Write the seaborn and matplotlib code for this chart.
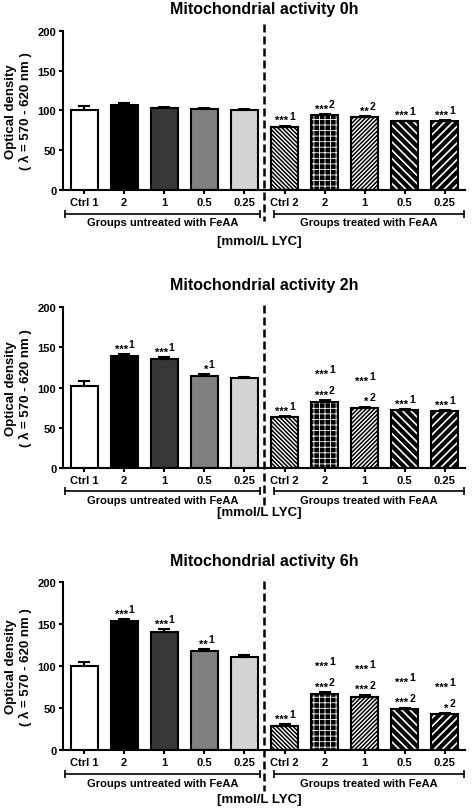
import numpy as np
import pandas as pd
import matplotlib
matplotlib.use("Agg")
import matplotlib.pyplot as plt
import seaborn as sns
from matplotlib.transforms import offset_copy

labels = ["Ctrl 1", "2", "1", "0.5", "0.25", "Ctrl 2", "2", "1", "0.5", "0.25"]
keys = ["u_ctrl", "u_2", "u_1", "u_05", "u_025", "t_ctrl", "t_2", "t_1", "t_05", "t_025"]

mean_0h = [100.2, 106.5, 103.6, 101.9, 100.0, 79.7, 94.3, 91.8, 86.4, 86.4]
sem_0h = [6.0, 2.5, 1.4, 0.8, 1.9, 1.3, 1.3, 1.2, 0.8, 1.2]
mean_2h = [102.3, 138.6, 134.8, 114.6, 111.8, 63.0, 82.5, 74.2, 72.2, 70.5]
sem_2h = [5.7, 2.4, 2.9, 1.7, 1.6, 1.7, 2.0, 2.1, 1.2, 1.7]
mean_6h = [100.0, 153.8, 141.0, 117.9, 110.4, 28.3, 66.5, 63.0, 48.6, 42.2]
sem_6h = [5.0, 2.0, 2.8, 2.1, 2.3, 2.0, 2.5, 2.7, 1.6, 1.6]

sig_low_0h = [None] * 5 + ["***1", "***2", "**2", "***1", "***1"]
sig_up_0h = [None] * 10
sig_low_2h = [None, "***1", "***1", "*1", None, "***1", "***2", "*2", "***1", "***1"]
sig_up_2h = [None] * 6 + ["***1", "***1", None, None]
sig_low_6h = [None, "***1", "***1", "**1", None, "***1", "***2", "***2", "***2", "*2"]
sig_up_6h = [None] * 6 + ["***1", "***1", "***1", "***1"]

titles = ["Mitochondrial activity 0h", "Mitochondrial activity 2h", "Mitochondrial activity 6h"]

# colours / hatches per bar
face = ["white", "black", "#383838", "#808080", "#d4d4d4", "white", "black", "white", "black", "black"]
hatch = [None, None, None, None, None, "\\" * 8, "+++", "/" * 8, "\\" * 4, "/" * 4]
hatch_col = [None] * 5 + ["black", "white", "black", "white", "white"]
hatch_lw = [None] * 5 + [1.1, 0.6, 1.1, 1.2, 1.2]

sns.set_style("ticks")
plt.rcParams["font.family"] = ["Liberation Sans", "DejaVu Sans"]
plt.rcParams["font.weight"] = "bold"
plt.rcParams["hatch.linewidth"] = 1.0
for key in ["text.color", "axes.labelcolor", "xtick.color", "ytick.color", "axes.edgecolor"]:
    plt.rcParams[key] = "black"

fig = plt.figure(figsize=(4.72, 8.12), dpi=100)

# axes rects (figure fraction) and label offsets (px below axis)
rects = [[0.134, 0.7648, 0.851, 0.1958],
         [0.134, 0.422, 0.851, 0.199],
         [0.134, 0.0755, 0.851, 0.206]]
dash_ext = [(1.044, -0.195), (1.01, -0.252), (1.008, -0.247)]
bracket_dy = [24, 23, 24]
group_dy = [32, 32, 33]
unit_dy = [51, 44, 49]
title_pad = [12.8, 12.7, 12.3]

panels = [(mean_0h, sem_0h, sig_low_0h, sig_up_0h),
          (mean_2h, sem_2h, sig_low_2h, sig_up_2h),
          (mean_6h, sem_6h, sig_low_6h, sig_up_6h)]

for k, (means, sems, sig_low, sig_up) in enumerate(panels):
    ax = fig.add_axes(rects[k])
    df = pd.DataFrame({"key": keys, "value": means})
    sns.barplot(data=df, x="key", y="value", hue="key", order=keys, hue_order=keys,
                palette=dict(zip(keys, face)), width=0.67, edgecolor="black",
                linewidth=1.5, errorbar=None, legend=False, ax=ax, saturation=1)
    bars = sorted(ax.patches, key=lambda p: p.get_x())
    for i, p in enumerate(bars):
        if hatch[i] is not None:
            p.set_facecolor(face[i])
            p.set_edgecolor(hatch_col[i])
            p.set_hatch(hatch[i])
            if hasattr(p, "set_hatch_linewidth"):
                p.set_hatch_linewidth(hatch_lw[i])
            ax.add_patch(plt.Rectangle(p.get_xy(), p.get_width(), p.get_height(), fill=False,
                                       edgecolor="black", linewidth=1.5, zorder=p.get_zorder() + 0.1))
    xs = np.array([p.get_x() + p.get_width() / 2 for p in bars])
    ax.errorbar(xs, means, yerr=[np.zeros(len(sems)), sems], fmt="none", ecolor="black",
                elinewidth=1.5, capsize=4, capthick=1.5, zorder=4)

    # significance labels
    for i in range(len(xs)):
        top = means[i] + sems[i]
        for txt, dy in ((sig_low[i], 5), (sig_up[i], 20)):
            if txt is None:
                continue
            ax.annotate(txt[:-1], xy=(xs[i], top), xytext=(2.6, dy - 3.2), textcoords="offset points",
                        ha="right", va="baseline", fontsize=8, annotation_clip=False)
            ax.annotate(txt[-1], xy=(xs[i], top), xytext=(3.2, dy), textcoords="offset points",
                        ha="left", va="baseline", fontsize=7.5, fontweight="bold", annotation_clip=False)

    ax.set_xlim(-0.52, 9.5)
    ax.set_ylim(0, 200)
    ax.set_yticks([0, 50, 100, 150, 200])
    ax.set_xticks(range(10))
    ax.set_xticklabels(labels)
    ax.tick_params(axis="both", labelsize=8, width=1.5, length=3, pad=2, direction="out")
    for t in ax.get_xticklabels() + ax.get_yticklabels():
        t.set_fontweight("bold")
    ax.set_xlabel("")
    ax.set_ylabel("Optical density\n( \u03bb = 570 - 620 nm )", fontsize=9.5, fontweight="bold",
                  linespacing=1.15)
    ax.yaxis.set_label_coords(-0.078, 0.5)
    sns.despine(ax=ax)
    ax.spines["left"].set_linewidth(1.5)
    ax.spines["bottom"].set_linewidth(1.5)
    ax.set_title(titles[k], fontsize=11.5, fontweight="bold", pad=title_pad[k])

    # dashed separator
    ax.plot([4.5, 4.5], list(dash_ext[k]), transform=ax.get_xaxis_transform(), color="black",
            lw=1.8, dashes=(3.2, 1.6), clip_on=False, zorder=5)

    # group brackets
    tb = offset_copy(ax.get_xaxis_transform(), fig=fig, x=0, y=-bracket_dy[k], units="dots")
    tg = offset_copy(ax.get_xaxis_transform(), fig=fig, x=0, y=-group_dy[k], units="dots")
    tu = offset_copy(ax.get_xaxis_transform(), fig=fig, x=0, y=-unit_dy[k], units="dots")
    for x0, x1, name in ((-0.47, 4.38, "Groups untreated with FeAA"),
                         (4.73, 9.48, "Groups treated with FeAA")):
        ax.plot([x0, x1], [0, 0], transform=tb, color="black", lw=1.2, marker="|",
                markersize=6, markeredgewidth=1.2, clip_on=False)
        ax.text((x0 + x1) / 2, 0, name, transform=tg, ha="center", va="center",
                fontsize=8, fontweight="bold")
    ax.text(4.37, 0, "[mmol/L LYC]", transform=tu, ha="center", va="center",
            fontsize=9.5, fontweight="bold")

fig.savefig("out.png", dpi=100)
